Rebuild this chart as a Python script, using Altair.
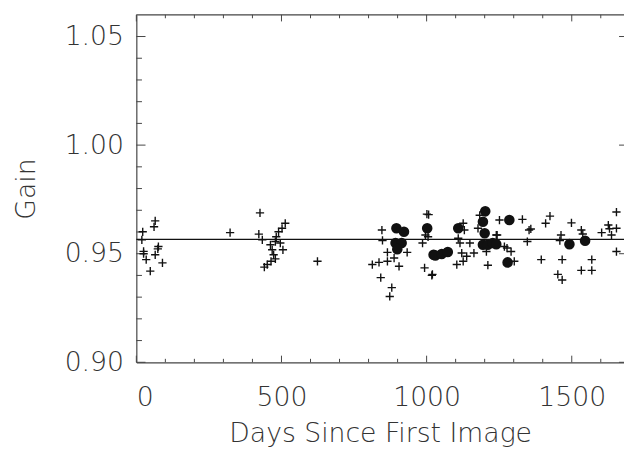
import altair as alt
import pandas as pd

# ---- data ----
plus_days = [19, 22, 25, 25, 34, 48, 61, 65, 65, 76, 74, 90,
             323, 624,
             426, 422, 434, 513, 502, 490, 482, 479, 496, 505, 462, 468, 473, 479, 464, 451, 441,
             813, 836, 865, 846, 848, 865, 842, 880, 873, 905, 933, 888, 986, 993, 1018, 996,
             1001, 1007, 1005, 1126, 1130, 1109, 1115, 1149, 1163, 1121, 1138, 1126, 1104, 1020,
             1183, 1177, 1251, 1240, 1206, 1211,
             1243, 1268, 1277, 1291, 1302, 1330, 1353, 1359, 1347, 1395, 1410, 1425, 1467,
             1452, 1467, 1463, 1459, 1499, 1533, 1538, 1533, 1569, 1569, 1603, 1626, 1637,
             1654, 1654, 1654, 1630]
plus_gain = [0.9564, 0.9601, 0.9511, 0.9500, 0.9473, 0.9420, 0.9624, 0.9651, 0.9495, 0.9533, 0.9522, 0.9458,
             0.9597, 0.9465,
             0.9688, 0.9590, 0.9564, 0.9640, 0.9617, 0.9601, 0.9578, 0.9556, 0.9549, 0.9518, 0.9541, 0.9518, 0.9495, 0.9476, 0.9465, 0.9450, 0.9438,
             0.9450, 0.9460, 0.9465, 0.9609, 0.9561, 0.9506, 0.9390, 0.9344, 0.9303, 0.9442, 0.9506, 0.9480, 0.9549, 0.9435, 0.9400, 0.9586,
             0.9682, 0.9680, 0.9578, 0.9640, 0.9609, 0.9571, 0.9549, 0.9549, 0.9503, 0.9503, 0.9488, 0.9465, 0.9450, 0.9405,
             0.9677, 0.9617, 0.9655, 0.9586, 0.9510, 0.9447,
             0.9586, 0.9533, 0.9526, 0.9510, 0.9465, 0.9658, 0.9609, 0.9614, 0.9556, 0.9473, 0.9640, 0.9673, 0.9473,
             0.9405, 0.9379, 0.9586, 0.9560, 0.9642, 0.9609, 0.9591, 0.9423, 0.9423, 0.9473, 0.9597, 0.9632, 0.9586,
             0.9692, 0.9617, 0.9510, 0.9615]

dot_days = [896, 922, 893, 914, 899, 1002, 1024, 1030, 1052, 1073, 1109,
            1202, 1194, 1200, 1194, 1211, 1228, 1240, 1285, 1279, 1492, 1546]
dot_gain = [0.9617, 0.9601, 0.9549, 0.9549, 0.9521, 0.9617, 0.9495, 0.9492, 0.9499, 0.9508, 0.9617,
            0.9695, 0.9647, 0.9594, 0.9541, 0.9541, 0.9549, 0.9544, 0.9655, 0.9460, 0.9544, 0.9560]

mean_gain = [0.9566]

x_major = [0, 500, 1000, 1500]
x_minor = [100, 200, 300, 400, 600, 700, 800, 900, 1100, 1200, 1300, 1400, 1600]
y_major = [0.90, 0.95, 1.00, 1.05]
y_minor = [0.91, 0.92, 0.93, 0.94, 0.96, 0.97, 0.98, 0.99, 1.01, 1.02, 1.03, 1.04]

X_DOMAIN = [0, 1680]
Y_DOMAIN = [0.90, 1.06]

W, H = 494, 352
FONT = "DejaVu Sans"
FW = 200
FS = 27
INK = "#333333"

xs = alt.Scale(domain=X_DOMAIN, nice=False, zero=False)
ys = alt.Scale(domain=Y_DOMAIN, nice=False, zero=False)

plus_df = pd.DataFrame({"days": plus_days, "gain": plus_gain})
dot_df = pd.DataFrame({"days": dot_days, "gain": dot_gain})
mean_df = pd.DataFrame({"gain": mean_gain})
xmaj_df = pd.DataFrame({"v": x_major})
xmin_df = pd.DataFrame({"v": x_minor})
ymaj_df = pd.DataFrame({"v": y_major})
ymin_df = pd.DataFrame({"v": y_minor})

PLUS = "M-1,0H1M0,-1V1"

base_x = alt.X("days:Q", scale=xs, title="Days Since First Image",
               axis=alt.Axis(values=x_major, format="d", ticks=False, grid=False,
                             domainColor="#444444", domainWidth=1.2,
                             labelFontSize=FS, labelFont=FONT, labelFontWeight=FW,
                             labelColor=INK, labelPadding=23,
                             titleFontSize=FS, titleFont=FONT, titleFontWeight=FW,
                             titleColor=INK, titlePadding=10))
base_y = alt.Y("gain:Q", scale=ys, title="Gain",
               axis=alt.Axis(values=y_major, format=".2f", ticks=False, grid=False,
                             domainColor="#444444", domainWidth=1.2,
                             labelFontSize=FS, labelFont=FONT, labelFontWeight=FW,
                             labelColor=INK, labelPadding=13,
                             titleFontSize=FS, titleFont=FONT, titleFontWeight=FW,
                             titleColor=INK, titlePadding=24))

plus = alt.Chart(plus_df).mark_point(shape=PLUS, filled=False, stroke="#111111",
                                     strokeWidth=1.4, size=70, opacity=1).encode(x=base_x, y=base_y)

dots = alt.Chart(dot_df).mark_circle(size=115, color="#111111", opacity=1).encode(
    x=alt.X("days:Q", scale=xs), y=alt.Y("gain:Q", scale=ys))

mean = alt.Chart(mean_df).mark_rule(color="#111111", strokeWidth=1.2).encode(
    y=alt.Y("gain:Q", scale=ys))

def xticks(df, y0, y1):
    return alt.Chart(df).mark_rule(color="#444444", strokeWidth=1).encode(
        x=alt.X("v:Q", scale=xs), y=alt.value(y0), y2=alt.value(y1))

def yticks(df, x0, x1):
    return alt.Chart(df).mark_rule(color="#444444", strokeWidth=1).encode(
        y=alt.Y("v:Q", scale=ys), x=alt.value(x0), x2=alt.value(x1))

top_line = alt.Chart(mean_df).mark_rule(color="#444444", strokeWidth=1.2).encode(
    x=alt.value(0), x2=alt.value(W), y=alt.value(0))

chart = alt.layer(
    top_line,
    xticks(xmaj_df, H, H - 6.7), xticks(xmin_df, H, H - 3.5),
    xticks(xmaj_df, 0, 6.7), xticks(xmin_df, 0, 3.5),
    yticks(ymaj_df, 0, 9.3), yticks(ymin_df, 0, 5.7),
    yticks(ymaj_df, W - 5, W),
    mean, plus, dots,
).properties(
    width=W, height=H,
    autosize=alt.AutoSizeParams(type="none"),
    padding={"left": 130, "top": 4, "right": 0, "bottom": 90},
    background="white",
).configure_view(stroke=None)

chart.save("out.html", embed_options={"renderer": "svg", "actions": False})
